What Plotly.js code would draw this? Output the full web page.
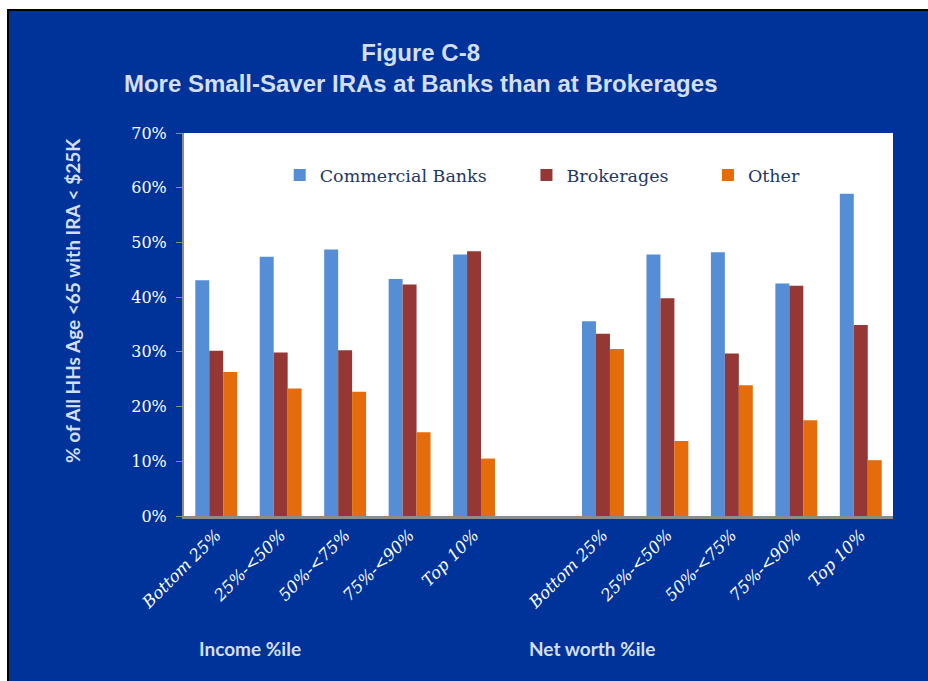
<!DOCTYPE html>
<html>
<head>
<meta charset="utf-8">
<script src="https://cdn.plot.ly/plotly-3.0.1.min.js"></script>
<style>
  html, body { margin: 0; padding: 0; background: #ffffff; width: 928px; height: 681px; overflow: hidden; }
  #frame { position: absolute; left: 7px; top: 9px; width: 921px; height: 672px; background: #000000; }
  #chart { position: absolute; left: 9px; top: 11px; width: 919px; height: 670px; }
</style>
</head>
<body>
<div id="frame"></div>
<div id="chart"></div>
<script>
// ---- data ----
const incomeCategories = ["Bottom 25%", "25%-<50%", "50%-<75%", "75%-<90%", "Top 10%"];
const netWorthCategories = ["Bottom 25%", "25%-<50%", "50%-<75%", "75%-<90%", "Top 10%"];
const groupLabels = ["Income %ile", "Net worth %ile"];

const banksIncome = [43.1, 47.4, 48.7, 43.3, 47.8];
const banksNetWorth = [35.6, 47.8, 48.2, 42.5, 58.9];
const brokeragesIncome = [30.2, 29.9, 30.3, 42.3, 48.4];
const brokeragesNetWorth = [33.3, 39.8, 29.7, 42.1, 34.9];
const otherIncome = [26.3, 23.3, 22.7, 15.3, 10.5];
const otherNetWorth = [30.5, 13.7, 23.9, 17.5, 10.2];

const yTickVals = [0, 10, 20, 30, 40, 50, 60, 70];
const yTickText = ["0%", "10%", "20%", "30%", "40%", "50%", "60%", "70%"];

// ---- build combined category axis with an empty gap slot ----
const labels = incomeCategories.concat([""], netWorthCategories);
const xIdx = labels.map((_, i) => i);
function combine(a, b) { return a.concat([null], b); }

const colors = { banks: "#558ed5", brokerages: "#953735", other: "#e46c0a" };

const traces = [
  { type: "bar", name: "Commercial Banks", x: xIdx, y: combine(banksIncome, banksNetWorth),
    marker: { color: colors.banks }, legend: "legend" },
  { type: "bar", name: "Brokerages", x: xIdx, y: combine(brokeragesIncome, brokeragesNetWorth),
    marker: { color: colors.brokerages }, legend: "legend2" },
  { type: "bar", name: "Other", x: xIdx, y: combine(otherIncome, otherNetWorth),
    marker: { color: colors.other }, legend: "legend3" }
];

const lightText = "#d3def1";
const legendFont = { family: "DejaVu Serif", size: 17.5, color: "#1f3864" };
function legendAt(xp) {
  return { x: xp, y: 0.89, xanchor: "left", yanchor: "middle", orientation: "h",
           bgcolor: "rgba(0,0,0,0)", font: legendFont, borderwidth: 0 };
}

const layout = {
  width: 919, height: 670,
  margin: { l: 175, r: 35, t: 122, b: 165 },
  paper_bgcolor: "#003399",
  plot_bgcolor: "#ffffff",
  barmode: "group",
  bargap: 0.35,
  bargroupgap: 0,
  showlegend: true,
  title: {
    text: "Figure C-8<br>More Small-Saver IRAs at Banks than at Brokerages",
    font: { family: "Liberation Sans", size: 24, color: lightText, weight: "bold" },
    xref: "container", x: 0.448, xanchor: "center",
    yref: "container", y: 0.925, yanchor: "top"
  },
  xaxis: {
    type: "linear",
    range: [-0.5, labels.length - 0.5],
    tickmode: "array",
    tickvals: xIdx,
    ticktext: labels,
    tickangle: -45,
    tickfont: { family: "DejaVu Serif", size: 16.5, color: "#ffffff", style: "italic" },
    showline: true, linecolor: "#8c8c8c", linewidth: 3,
    ticks: "", showgrid: false, zeroline: false, fixedrange: true
  },
  yaxis: {
    range: [0, 70],
    tickmode: "array",
    tickvals: yTickVals,
    ticktext: yTickText,
    tickfont: { family: "DejaVu Serif", size: 16, color: "#ffffff" },
    ticklabelstandoff: 6,
    showline: true, linecolor: "#8c8c8c", linewidth: 2,
    ticks: "outside", ticklen: 6, tickcolor: "#8c8c8c", tickwidth: 1,
    showgrid: false, zeroline: false, fixedrange: true
  },
  legend: legendAt(0.135),
  legend2: legendAt(0.483),
  legend3: legendAt(0.739),
  annotations: [
    { text: "% of All HHs Age <65 with IRA < $25K", textangle: -90,
      xref: "paper", yref: "paper", x: -0.1566, y: 0.564, xanchor: "center", yanchor: "middle",
      showarrow: false, font: { family: "Lato", size: 19, color: lightText, weight: "bold" } },
    { text: groupLabels[0], xref: "paper", yref: "paper", x: 0.093, y: -0.347,
      xanchor: "center", yanchor: "middle", showarrow: false,
      font: { family: "Lato", size: 19, color: lightText, weight: "bold" } },
    { text: groupLabels[1], xref: "paper", yref: "paper", x: 0.575, y: -0.347,
      xanchor: "center", yanchor: "middle", showarrow: false,
      font: { family: "Lato", size: 19, color: lightText, weight: "bold" } }
  ]
};

Plotly.newPlot("chart", traces, layout, { displayModeBar: false, staticPlot: true });
</script>
</body>
</html>
